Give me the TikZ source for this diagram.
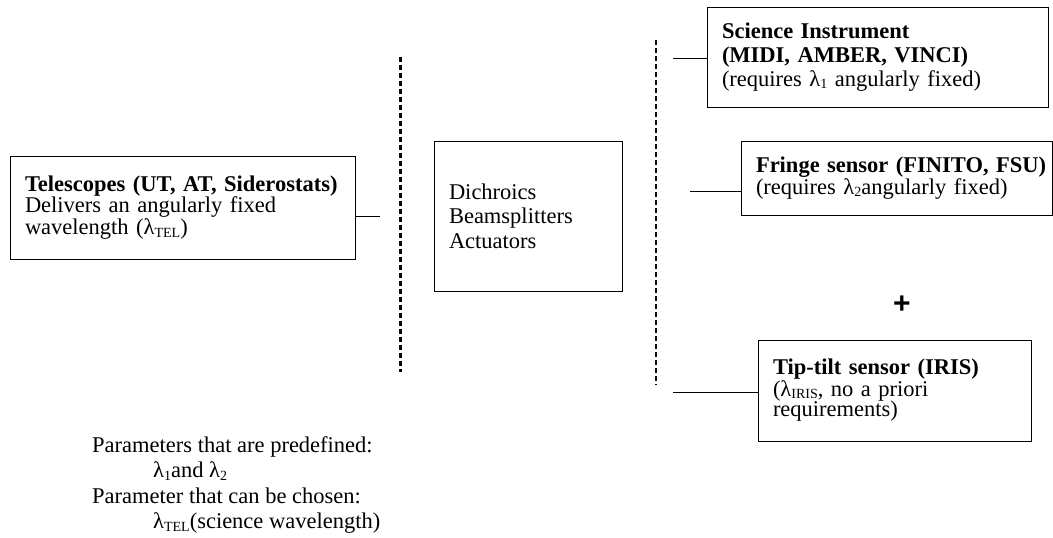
\documentclass[tikz,border=0pt]{standalone}
\usepackage{fontspec}
\setmainfont{Liberation Serif}
\newfontfamily\plusfont{Liberation Sans}
\newcommand{\lam}[1]{λ\raisebox{-2.5pt}{\fontsize{14}{14}\selectfont #1}}
\tikzset{
  blockbox/.style={draw, line width=1pt, align=left, inner xsep=15pt, inner ysep=0pt},
  sepline/.style={line width=2.6pt, dash pattern=on 5pt off 3pt},
  link/.style={line width=1pt},
}
\begin{document}
\begin{tikzpicture}[x=1pt,y=-1pt]
\useasboundingbox (0,0) rectangle (1053,538);
% boxes
\node[blockbox, text width=315pt, minimum height=103pt, font=\fontsize{22.5}{20.5}\selectfont] (tel) at (182.5,207.5)
  {\mbox{\textbf{Telescopes (UT, AT, Siderostats)}}\\Delivers an angularly fixed\\wavelength (\lam{TEL})};
\node[blockbox, text width=158pt, minimum height=150pt, font=\fontsize{22.5}{24.5}\selectfont] (dich) at (528,216)
  {Dichroics\\Beamsplitters\\Actuators};
\node[blockbox, text width=311pt, minimum height=100pt, font=\fontsize{22.5}{24}\selectfont] (sci) at (877.5,57)
  {\textbf{Science Instrument}\\\textbf{(MIDI, AMBER, VINCI)}\\(requires \lam{1} angularly fixed)};
\node[blockbox, text width=281pt, minimum height=74pt, font=\fontsize{22.5}{20}\selectfont] (fringe) at (896.5,178)
  {\mbox{\textbf{Fringe sensor (FINITO, FSU)}}\\(requires \lam{2}angularly fixed)};
\node[blockbox, text width=243pt, minimum height=101pt, font=\fontsize{22.5}{20.5}\selectfont] (tip) at (894.5,390.5)
  {\textbf{Tip-tilt sensor (IRIS)}\\(\lam{IRIS}, no a priori\\requirements)};
\node[font=\fontsize{30}{30}\plusfont\bfseries] (plus) at (902,305) {+};
% separators
\coordinate (cuttop1) at (400.5,57);
\coordinate (cutbot1) at (400.5,372);
\coordinate (cuttop2) at (656,40);
\coordinate (cutbot2) at (656,385);
\draw[sepline] (cuttop1) -- (cutbot1);
\draw[sepline] (cuttop2) -- (cutbot2);
% connectors
\coordinate (telend) at (380,216);
\coordinate (sciend) at (673,58);
\coordinate (frend) at (690,191);
\coordinate (tipend) at (673,392);
\draw[link] (tel.east |- telend) -- (telend);
\draw[link] (sciend) -- (sci.west |- sciend);
\draw[link] (frend) -- (fringe.west |- frend);
\draw[link] (tipend) -- (tip.west |- tipend);
% parameters
\node[anchor=north west, inner sep=0pt, align=left, font=\fontsize{22.5}{25.5}\selectfont] (params) at (92,436)
  {Parameters that are predefined:\\\hspace*{61pt}\lam{1}and \lam{2}\\Parameter that can be chosen:\\\hspace*{61pt}\lam{TEL}(science wavelength)};
\end{tikzpicture}
\end{document}
